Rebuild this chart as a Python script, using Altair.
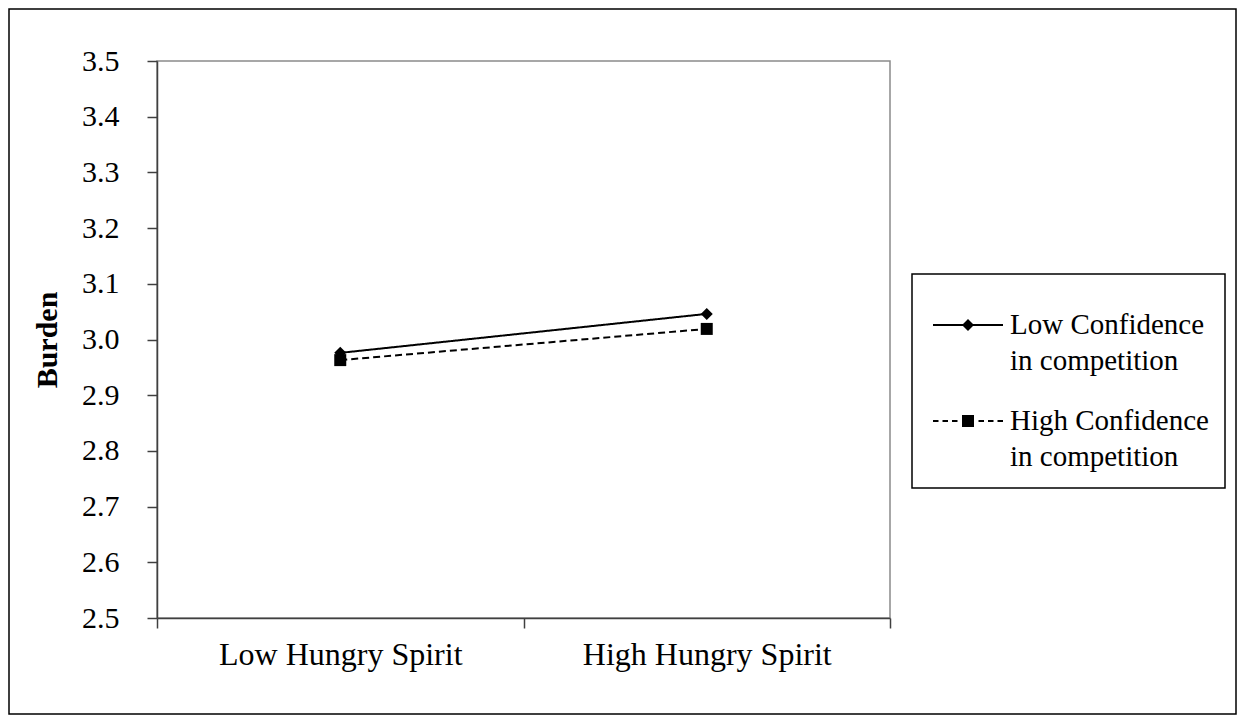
import altair as alt
import pandas as pd

# ---- data ----
levels = ["Low Hungry Spirit", "High Hungry Spirit"]
series = ["Low Confidence in competition", "High Confidence in competition"]
low_conf = [2.976, 3.046]
high_conf = [2.963, 3.019]
y_ticks = [2.5, 2.6, 2.7, 2.8, 2.9, 3.0, 3.1, 3.2, 3.3, 3.4, 3.5]

rows = []
for s, vals in zip(series, [low_conf, high_conf]):
    for lv, v in zip(levels, vals):
        rows.append({"level": lv, "series": s, "burden": v})
df = pd.DataFrame(rows)

FONT = "Liberation Serif"
AXIS_COLOR = "#404040"

x_enc = alt.X(
    "level:N",
    sort=levels,
    scale=alt.Scale(type="band", paddingInner=0, paddingOuter=0),
    axis=alt.Axis(
        title=None, labelAngle=0, tickBand="extent", tickSize=10, labelLimit=500,
        labelPadding=11, labelFont=FONT, labelFontSize=32, labelColor="black",
        domainColor=AXIS_COLOR, tickColor=AXIS_COLOR, domainWidth=1.5, tickWidth=1.5,
    ),
)
y_enc = alt.Y(
    "burden:Q",
    scale=alt.Scale(domain=[2.5, 3.5], nice=False, zero=False),
    axis=alt.Axis(
        values=y_ticks, format=".1f", title="Burden", grid=False, tickSize=10,
        labelPadding=28, labelFont=FONT, labelFontSize=30, labelColor="black",
        titleFont=FONT, titleFontSize=30, titleFontWeight="bold", titleColor="black",
        titlePadding=19,
        domainColor=AXIS_COLOR, tickColor=AXIS_COLOR, domainWidth=1.5, tickWidth=1.5,
    ),
)

lines = alt.Chart(df).mark_line(color="black", strokeWidth=2).encode(
    x=x_enc,
    y=y_enc,
    strokeDash=alt.StrokeDash(
        "series:N",
        scale=alt.Scale(domain=series, range=[[1, 0], [7, 4]]),
        legend=None,
    ),
)

points = alt.Chart(df).mark_point(filled=True, opacity=1, color="black", size=144).encode(
    x=x_enc,
    y=y_enc,
    shape=alt.Shape(
        "series:N",
        scale=alt.Scale(domain=series, range=["diamond", "square"]),
        legend=None,
    ),
)

# legend symbols: line with marker in the middle, all as filled shapes
# (coordinates in px, normalized to [-1, 1] with r = 35)
r = 35.0
def n(v):
    return f"{v / r:.4f}"

def hbar(a, b, h=1.0):
    return f"M{n(a)},{n(-h)}H{n(b)}V{n(h)}H{n(a)}Z"

solid_path = hbar(-35, 35) + f"M0,{n(-6)}L{n(6)},0L0,{n(6)}L{n(-6)},0Z"
dash_segs = [(-35, -29.5), (-25.5, -20), (-16, -10.5), (10.5, 16), (20, 25.5), (29.5, 35)]
dash_path = "".join(hbar(a, b) for a, b in dash_segs)
dash_path += f"M{n(-6)},{n(-6)}H{n(6)}V{n(6)}H{n(-6)}Z"

legend_layer = alt.Chart(df).transform_filter("false").mark_point(
    filled=True, opacity=1, color="black", size=4900
).encode(
    shape=alt.Shape(
        "series:N",
        scale=alt.Scale(domain=series, range=[solid_path, dash_path]),
        legend=alt.Legend(
            title=None,
            orient="none",
            legendX=755,
            legendY=213,
            symbolSize=4900,
            symbolOffset=5,
            symbolFillColor="black",
            symbolStrokeWidth=0,
            symbolOpacity=1,
            padding=16,
            rowPadding=10,
            labelFont=FONT,
            labelFontSize=29,
            labelColor="black",
            labelLimit=400,
            labelOffset=7,
            labelBaseline="middle",
            labelExpr="[split(datum.label, ' in ')[0], 'in ' + split(datum.label, ' in ')[1]]",
            strokeColor="black",
            fillColor="white",
        ),
    ),
)

frame = alt.Chart(pd.DataFrame({"k": [0]})).mark_rect(
    filled=False, stroke="black", strokeWidth=1.5
).encode(
    x=alt.value(-148), x2=alt.value(1079), y=alt.value(-52), y2=alt.value(653)
)

chart = alt.layer(frame, lines, points, legend_layer).resolve_scale(
    shape="independent"
).properties(
    width=733,
    height=557,
    padding={"left": 149, "top": 53, "right": 347, "bottom": 97},
    autosize=alt.AutoSizeParams(type="none"),
).configure(
    style={"guide-label": {"lineHeight": 36}}
).configure_view(
    stroke="#8a8a8a", strokeWidth=1.5
).configure_legend(
    strokeWidth=1.5
)

chart.save("out.html", embed_options={"renderer": "svg", "actions": False})
